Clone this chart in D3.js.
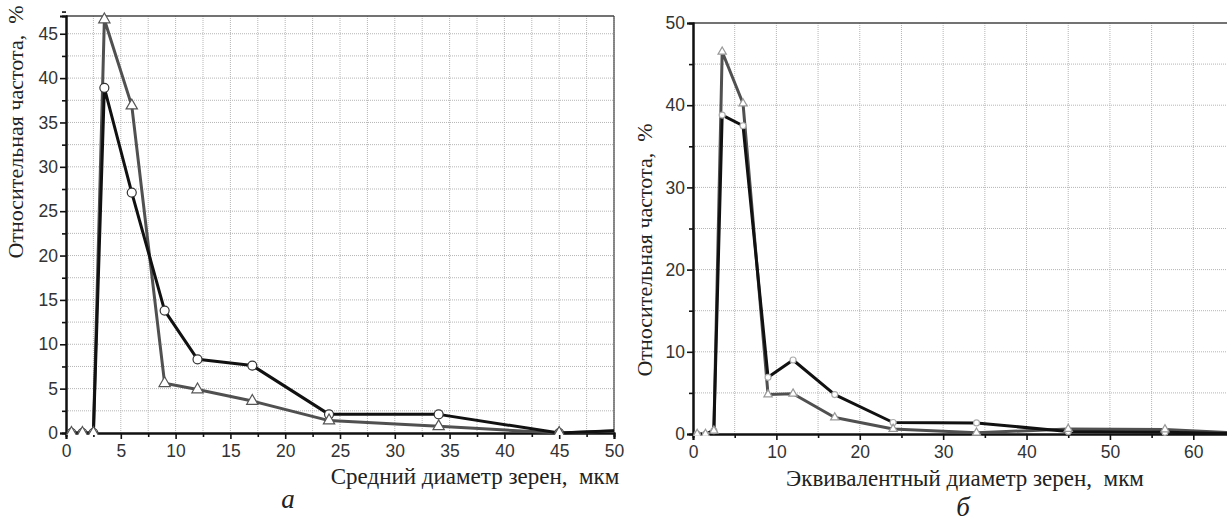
<!DOCTYPE html>
<html lang="ru">
<head>
<meta charset="UTF-8">
<title>Распределение зерен по размерам</title>
<script src="https://cdn.jsdelivr.net/npm/d3@7"></script>
<style>
body { margin: 0; background: #fff; }
svg { display: block; }
.tick text { font-family: "Liberation Sans", Arial, sans-serif; font-size: 17.5px; fill: #333; }
.lbl { font-family: "Liberation Serif", "Times New Roman", serif; font-size: 23px; fill: #222; white-space: pre; }
.ylbl { font-size: 22px; }
.cap { font-family: "Liberation Serif", "Times New Roman", serif; font-size: 27px; font-style: italic; fill: #222; }
</style>
</head>
<body>
<script>

// panel a: mean grain diameter
var xLeft = [0.5, 1.5, 2.5, 3.5, 6, 9, 12, 17, 24, 34, 45, 56.5];
var leftCircle = [0, 0, 0, 38.9, 27.1, 13.8, 8.3, 7.6, 2.1, 2.1, 0, 0.6];
var leftTriangle = [0, 0, 0, 46.6, 36.9, 5.6, 4.9, 3.6, 1.4, 0.75, 0, 0.5];
var leftXTicks = [0, 5, 10, 15, 20, 25, 30, 35, 40, 45, 50];
var leftYTicks = [0, 5, 10, 15, 20, 25, 30, 35, 40, 45];

// panel b: equivalent grain diameter
var xRight = [0.5, 1.5, 2.5, 3.5, 6, 9, 12, 17, 24, 34, 45, 56.6, 68];
var rightCircle = [0, 0, 0.4, 38.8, 37.5, 6.9, 9.0, 4.8, 1.4, 1.35, 0.3, 0.2, 0];
var rightTriangle = [0, 0, 0.4, 46.5, 40.2, 4.8, 4.9, 2.0, 0.6, 0.15, 0.6, 0.55, 0];
var rightXTicks = [0, 10, 20, 30, 40, 50, 60];
var rightYTicks = [0, 10, 20, 30, 40, 50];

var yTitle = "Относительная частота,  %";

var W = 1227, H = 522;
var svg = d3.select("body").append("svg").attr("width", W).attr("height", H);

function range(a, b, s) { return d3.range(a, b + 1e-9, s); }

function panel(o) {
  var x = d3.scaleLinear().domain(o.xDom).range([o.left, o.right]);
  var y = d3.scaleLinear().domain(o.yDom).range([o.bottom, o.top]);
  var g = svg.append("g");

  var clipId = "clip" + o.id;
  g.append("clipPath").attr("id", clipId).append("rect")
    .attr("x", o.left).attr("y", o.top - 12)
    .attr("width", Math.min(o.right, W) - o.left).attr("height", o.bottom - o.top + 14);

  // dotted grid
  var xMax = Math.min(o.right, W);
  g.selectAll("line.gx").data(o.xGrid).enter().append("line")
    .attr("x1", function(d) { return x(d); }).attr("x2", function(d) { return x(d); })
    .attr("y1", o.top).attr("y2", o.bottom)
    .attr("stroke", "#b5b5b5").attr("stroke-width", 1).attr("stroke-dasharray", "1,1");
  g.selectAll("line.gy").data(o.yGrid).enter().append("line")
    .attr("x1", o.left).attr("x2", xMax)
    .attr("y1", function(d) { return y(d); }).attr("y2", function(d) { return y(d); })
    .attr("stroke", "#b5b5b5").attr("stroke-width", 1).attr("stroke-dasharray", "1,1");

  // frame top / right
  g.append("line").attr("x1", o.left).attr("x2", xMax).attr("y1", o.top).attr("y2", o.top)
    .attr("stroke", "#444").attr("stroke-width", 1.5);
  if (o.right < W) {
    g.append("line").attr("x1", o.right).attr("x2", o.right).attr("y1", o.top).attr("y2", o.bottom)
      .attr("stroke", "#444").attr("stroke-width", 1.2);
  }

  // axes
  g.append("g").attr("transform", "translate(0," + o.bottom + ")")
    .call(d3.axisBottom(x).tickValues(o.xTicks).tickSize(6).tickPadding(6).tickFormat(d3.format("d")));
  g.append("g").attr("transform", "translate(0," + o.bottom + ")")
    .call(d3.axisBottom(x).tickValues(o.xMinor).tickSize(4).tickFormat(""));
  g.append("g").attr("transform", "translate(" + o.left + ",0)")
    .call(d3.axisLeft(y).tickValues(o.yTicks).tickSize(6).tickPadding(2).tickFormat(d3.format("d")));
  g.append("g").attr("transform", "translate(" + o.left + ",0)")
    .call(d3.axisLeft(y).tickValues(o.yMinor).tickSize(4).tickFormat(""));
  g.selectAll(".domain").attr("stroke", "#111").attr("stroke-width", 2);
  g.selectAll(".tick line").attr("stroke", "#111").attr("stroke-width", 1.6);

  var plot = g.append("g").attr("clip-path", "url(#" + clipId + ")");

  function series(vals, color, marker) {
    var pts = o.xs.map(function(d, i) { return [d, vals[i]]; });
    plot.append("path").datum(pts)
      .attr("fill", "none").attr("stroke", color).attr("stroke-width", 3)
      .attr("stroke-linejoin", "round")
      .attr("d", d3.line().x(function(d) { return x(d[0]); }).y(function(d) { return y(d[1]); }));
    var mk = plot.selectAll(null).data(pts.filter(function(d) { return d[0] <= o.xDom[1]; })).enter();
    if (marker == "circle") {
      mk.append("circle")
        .attr("cx", function(d) { return x(d[0]); }).attr("cy", function(d) { return y(d[1]); })
        .attr("r", o.cr).attr("fill", "#fff").attr("stroke", o.cStroke).attr("stroke-width", 1.2);
    } else {
      mk.append("path")
        .attr("transform", function(d) { return "translate(" + x(d[0]) + "," + y(d[1]) + ")"; })
        .attr("d", d3.symbol().type(d3.symbolTriangle).size(o.ts))
        .attr("fill", "#fff").attr("stroke", o.tStroke).attr("stroke-width", 1.2);
    }
  }
  series(o.tri, "#505050", "tri");
  series(o.circ, "#111", "circle");
  // keep triangle markers above the black line
  plot.selectAll("path").filter(function() { return this.getAttribute("fill") == "#fff"; }).raise();

  // titles
  g.append("text").attr("class", "lbl ylbl")
    .attr("transform", "translate(" + o.yLabX + "," + o.yLabY + ") rotate(-90)")
    .attr("text-anchor", "middle").text(yTitle);
  g.append("text").attr("class", "lbl").attr("x", o.xLabX).attr("y", o.xLabY)
    .attr("text-anchor", "middle").text(o.xTitle);
  g.append("text").attr("class", "cap").attr("x", o.capX).attr("y", o.capY)
    .attr("text-anchor", "middle").text(o.cap);
}

panel({
  id: "a", xs: xLeft, circ: leftCircle, tri: leftTriangle,
  xDom: [0, 50], yDom: [0, 47], left: 66, right: 614, top: 16, bottom: 433,
  xTicks: leftXTicks, yTicks: leftYTicks,
  xMinor: range(2.5, 47.5, 5), yMinor: range(2.5, 47.5, 5),
  xGrid: range(2.5, 50, 2.5), yGrid: range(2.5, 45, 2.5),
  cr: 4.5, cStroke: "#333", ts: 55, tStroke: "#555",
  yLabX: 23, yLabY: 132, xLabX: 475, xLabY: 484,
  xTitle: "Средний диаметр зерен,  мкм", capX: 288, capY: 508, cap: "а"
});

panel({
  id: "b", xs: xRight, circ: rightCircle, tri: rightTriangle,
  xDom: [0, 65], yDom: [0, 50], left: 693, right: 1235, top: 23, bottom: 434,
  xTicks: rightXTicks, yTicks: rightYTicks,
  xMinor: range(5, 65, 10), yMinor: range(5, 45, 10),
  xGrid: range(5, 65, 5), yGrid: range(5, 45, 5),
  cr: 3, cStroke: "#aaa", ts: 30, tStroke: "#999",
  yLabX: 652, yLabY: 250, xLabX: 965, xLabY: 486,
  xTitle: "Эквивалентный диаметр зерен,  мкм", capX: 963, capY: 516, cap: "б"
});

</script>
</body>
</html>
